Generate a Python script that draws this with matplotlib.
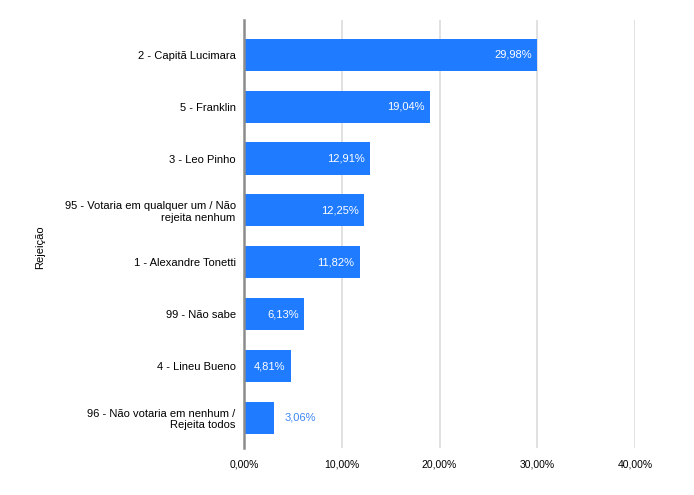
import matplotlib.pyplot as plt

plt.rcParams["font.family"] = ["Liberation Sans", "DejaVu Sans"]

categories = [
    "2 - Capitã Lucimara",
    "5 - Franklin",
    "3 - Leo Pinho",
    "95 - Votaria em qualquer um / Não\nrejeita nenhum",
    "1 - Alexandre Tonetti",
    "99 - Não sabe",
    "4 - Lineu Bueno",
    "96 - Não votaria em nenhum /\nRejeita todos",
]
values = [29.98, 19.04, 12.91, 12.25, 11.82, 6.13, 4.81, 3.06]
xticks = [0, 10, 20, 30, 40]

bar_color = "#1f7bff"
fig = plt.figure(figsize=(6.94, 4.95), dpi=100)
ax = fig.add_axes([0.3516, 0.095, 0.5635, 0.865])

y = list(range(len(categories)))
ax.barh(y, values, height=0.62, color=bar_color, zorder=3)

for yi, v in zip(y, values):
    label = f"{v:.2f}%".replace(".", ",")
    if v > 4:
        ax.text(v - 0.55, yi, label, ha="right", va="center", color="white", fontsize=8, zorder=4)
    else:
        ax.text(v + 1.1, yi, label, ha="left", va="center", color="#3d87f5", fontsize=8, zorder=4)

ax.set_ylim(len(categories) - 1 + 0.58, -0.674)
ax.set_yticks(y)
ax.set_yticklabels(categories, fontsize=8, linespacing=1.15)
ax.set_xlim(0, 40)
ax.set_xticks(xticks)
ax.set_xticklabels([f"{t:.2f}%".replace(".", ",") for t in xticks], fontsize=7.5)
ax.tick_params(length=0, pad=8)
ax.tick_params(axis="y", pad=6)

ax.grid(axis="x", color="#dcdcdc", linewidth=1.2, zorder=0)
for s in ["top", "right", "bottom"]:
    ax.spines[s].set_visible(False)
ax.spines["left"].set_color("#8c8c8c")
ax.spines["left"].set_linewidth(1.8)
ax.spines["left"].set_zorder(5)

fig.text(0.058, 0.5, "Rejeição", rotation=90, ha="center", va="center", fontsize=8)

plt.savefig("out.png", dpi=100)
